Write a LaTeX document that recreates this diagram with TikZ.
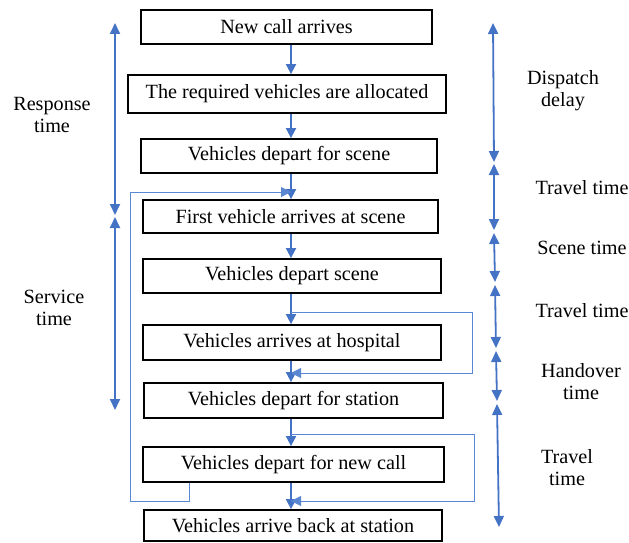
\documentclass[tikz,border=0pt]{standalone}
\usepackage{fontspec}
\setmainfont{Liberation Serif}
\usetikzlibrary{arrows.meta,calc}
\definecolor{flowblue}{RGB}{68,114,196}
\definecolor{loopblue}{RGB}{90,135,210}
\begin{document}
\begin{tikzpicture}[x=1pt,y=-1pt,
  stepbox/.style={draw=black,line width=1.8pt,inner sep=0pt,align=center,
    font=\fontsize{20.2}{22}\selectfont},
  lbl/.style={align=center,font=\fontsize{20.2}{22}\selectfont},
  flow/.style={draw=flowblue,line width=1.8pt,-{Triangle[length=10pt,width=10pt]}},
  loopline/.style={draw=loopblue,line width=1pt,-{Triangle[length=10pt,width=10pt]}},
  span/.style={draw=flowblue,line width=1.8pt,{Triangle[length=11pt,width=10pt]}-{Triangle[length=11pt,width=10pt]}}]
\useasboundingbox (0,0) rectangle (629,543);

% process steps
\node[stepbox,minimum width=291pt,minimum height=34pt] (b1) at (286.5,27) {New call arrives};
\node[stepbox,minimum width=318pt,minimum height=38pt] (b2) at (287,94) {The required vehicles are allocated};
\node[stepbox,minimum width=296pt,minimum height=34pt] (b3) at (289,156) {Vehicles depart for scene};
\node[stepbox,minimum width=295pt,minimum height=33pt] (b4) at (290.5,216.5) {First vehicle arrives at scene};
\node[stepbox,minimum width=298pt,minimum height=34pt] (b5) at (292,276) {Vehicles depart scene};
\node[stepbox,minimum width=298pt,minimum height=35pt] (b6) at (292,342.5) {Vehicles arrives at hospital};
\node[stepbox,minimum width=299pt,minimum height=35pt] (b7) at (293.5,400.5) {Vehicles depart for station};
\node[stepbox,minimum width=301pt,minimum height=35pt] (b8) at (293.5,464.5) {Vehicles depart for new call};
\node[stepbox,minimum width=298pt,minimum height=31pt] (b9) at (293,525.5) {Vehicles arrive back at station};

% main flow axis
\coordinate (ax) at (291,0);
\foreach \a/\b in {b1/b2,b2/b3,b3/b4,b4/b5,b5/b6,b6/b7,b7/b8,b8/b9}
  \draw[flow] (\a.south -| ax) -- (\b.north -| ax);

% loop back: new call -> first vehicle arrives at scene
\coordinate (l1a) at (189,501);
\coordinate (l1b) at (130,501);
\coordinate (l1c) at (130,192);
\coordinate (l1d) at (291,192);
\draw[loopline] (b8.south -| l1a) -- (l1a) -- (l1b) -- (l1c) -- (l1d);

% bypass: depart scene -> depart for station
\coordinate (l2a) at (291,312);
\coordinate (l2b) at (472,312);
\coordinate (l2c) at (472,373);
\coordinate (l2d) at (291,373);
\draw[loopline] (l2a) -- (l2b) -- (l2c) -- (l2d);

% bypass: depart for station -> arrive back at station
\coordinate (l3a) at (291,434);
\coordinate (l3b) at (474,434);
\coordinate (l3c) at (474,501);
\coordinate (l3d) at (291,501);
\draw[loopline] (l3a) -- (l3b) -- (l3c) -- (l3d);

% left time spans
\coordinate (r0) at (115,23);
\coordinate (r1) at (115,215);
\coordinate (r2) at (115,217);
\coordinate (r3) at (115,410);
\draw[span] (r0) -- (r1);
\draw[span] (r2) -- (r3);
\node[lbl] (lresp) at (52,115) {Response\\time};
\node[lbl] (lserv) at (54,308) {Service\\time};

% right time spans
\coordinate (t0) at (493,23);
\coordinate (t1) at (494,162);
\coordinate (t2) at (494,164);
\coordinate (t3) at (494,230);
\coordinate (t4) at (494,233);
\coordinate (t5) at (495,282);
\coordinate (t6) at (495,285);
\coordinate (t7) at (496,348);
\coordinate (t8) at (496,351);
\coordinate (t9) at (497,401);
\coordinate (t10) at (497,404);
\coordinate (t11) at (499,527);
\draw[span] (t0) -- (t1);
\draw[span] (t2) -- (t3);
\draw[span] (t4) -- (t5);
\draw[span] (t6) -- (t7);
\draw[span] (t8) -- (t9);
\draw[span] (t10) -- (t11);

\node[lbl] (ldisp) at (563,91) {Dispatch\\delay};
\node[lbl] (ltr1) at (582,188) {Travel time};
\node[lbl] (lscene) at (582,248) {Scene time};
\node[lbl] (ltr2) at (582,311) {Travel time};
\node[lbl] (lhand) at (581,382) {Handover\\time};
\node[lbl] (ltr3) at (567,468) {Travel\\time};
\end{tikzpicture}
\end{document}
